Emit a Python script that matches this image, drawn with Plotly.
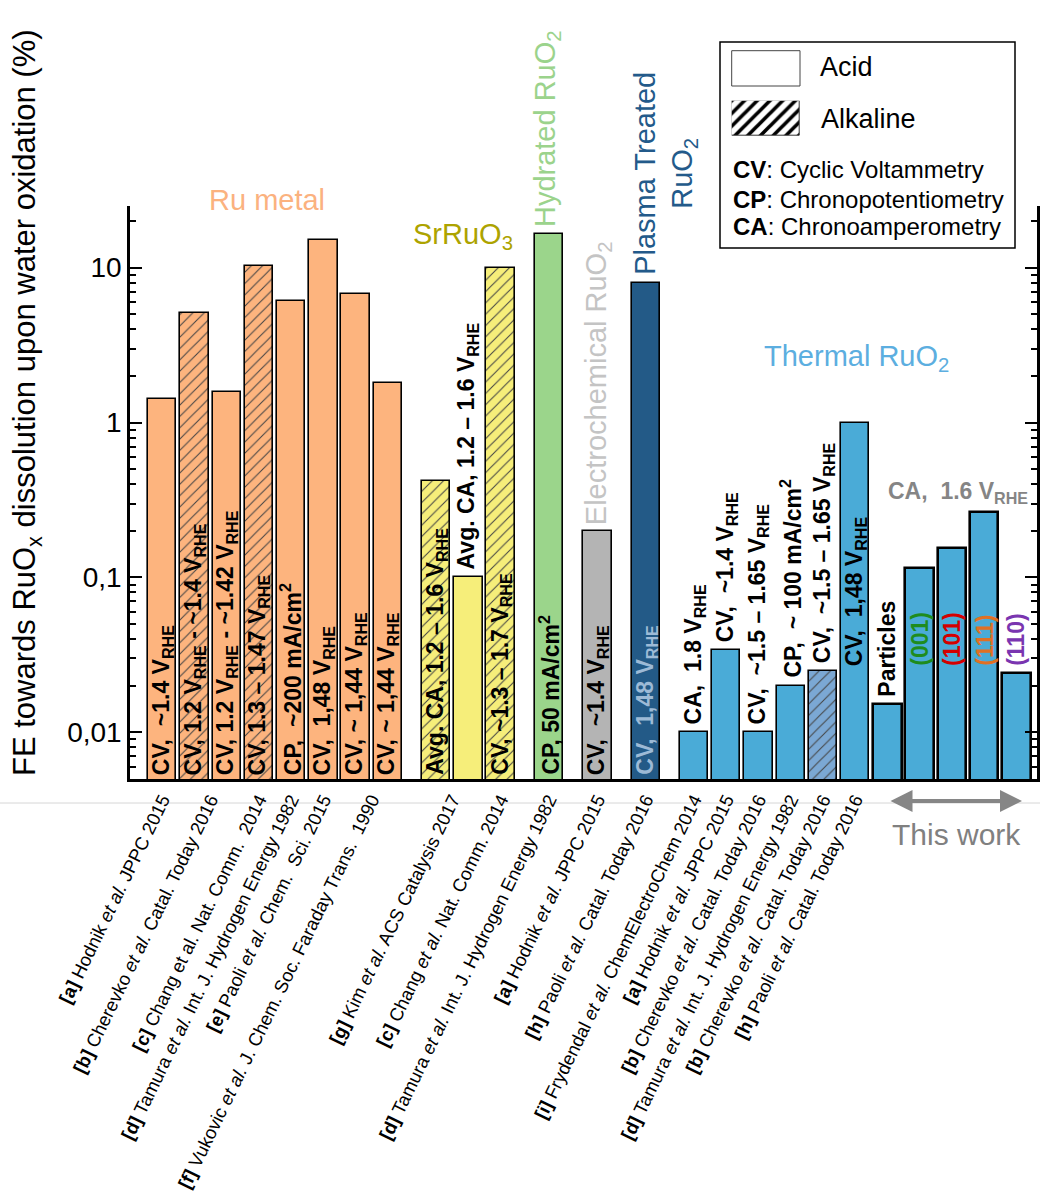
import math
import plotly.graph_objects as go

FONT = "Liberation Sans, Arial, sans-serif"

# ---------------- data ----------------
# x slot of every bar (groups are separated by half-slot gaps)
positions = [0, 1, 2, 3, 4, 5, 6, 7,
             8.5, 9.5, 10.5,
             12,
             13.5,
             15,
             16.5, 17.5, 18.5, 19.5, 20.5, 21.5,
             22.5, 23.5, 24.5, 25.5, 26.5]

# Faradaic efficiency towards RuOx dissolution (%)
fe_values = [1.42, 5.1, 1.58, 10.3, 6.05, 15.0, 6.8, 1.81,
             0.42, 0.10, 10.0,
             16.6,
             0.20,
             8.0,
             0.010, 0.034, 0.010, 0.020, 0.025, 1.0,
             0.0152, 0.115, 0.155, 0.264, 0.024]

electrolyte = ["acid", "alkaline", "acid", "alkaline", "acid", "acid", "acid", "acid",
               "alkaline", "acid", "alkaline",
               "acid",
               "acid",
               "acid",
               "acid", "acid", "acid", "acid", "alkaline", "acid",
               "acid", "acid", "acid", "acid", "acid"]

material = (["ru"] * 8 + ["srruo3"] * 3 + ["hydrated", "electrochemical", "plasma"]
            + ["thermal"] * 6 + ["this_work"] * 5)

# literature references; a reference shared by two bars sits between them
reference_slots = [0, 1.5, 3, 4, 5, 6.5,
                   9, 10.5,
                   12, 13.5, 15,
                   16.5, 17.5, 18.5, 19.5, 20.5, 21.5]
references = [
    "<b>[a]</b> Hodnik <i>et al.</i> JPPC 2015",
    "<b>[b]</b> Cherevko <i>et al.</i> Catal. Today 2016",
    "<b>[c]</b> Chang et al. Nat. Comm.  2014",
    "<b>[d]</b> Tamura <i>et al.</i> Int. J. Hydrogen Energy 1982",
    "<b>[e]</b> Paoli <i>et al.</i> Chem.  Sci. 2015",
    "<b>[f]</b> Vukovic <i>et al.</i> J. Chem. Soc. Faraday Trans.  1990",
    "<b>[g]</b> Kim <i>et al.</i> ACS Catalysis 2017",
    "<b>[c]</b> Chang <i>et al.</i> Nat. Comm. 2014",
    "<b>[d]</b> Tamura <i>et al.</i> Int. J. Hydrogen Energy 1982",
    "<b>[a]</b> Hodnik <i>et al.</i> JPPC 2015",
    "<b>[h]</b> Paoli <i>et al.</i> Catal. Today 2016",
    "<b>[i]</b> Frydendal <i>et al.</i> ChemElectroChem 2014",
    "<b>[a]</b> Hodnik <i>et al.</i> JPPC 2015",
    "<b>[b]</b> Cherevko <i>et al.</i> Catal. Today 2016",
    "<b>[d]</b> Tamura <i>et al.</i> Int. J. Hydrogen Energy 1982",
    "<b>[b]</b> Cherevko <i>et al.</i> Catal. Today 2016",
    "<b>[h]</b> Paoli <i>et al.</i> Catal. Today 2016",
]

# method text written on / above each bar
bar_texts = [
    "CV,  ~1.4 V<sub>RHE</sub>",
    "CV, 1.2 V<sub>RHE</sub> - ~1.4 V<sub>RHE</sub>",
    "CV, 1.2 V<sub>RHE</sub> - ~1.42 V<sub>RHE</sub>",
    "CV, 1.3 – 1.47 V<sub>RHE</sub>",
    "CP,  ~200 mA/cm<sup>2</sup>",
    "CV,  1,48 V<sub>RHE</sub>",
    "CV, ~ 1,44 V<sub>RHE</sub>",
    "CV, ~ 1,44 V<sub>RHE</sub>",
    "Avg. CA, 1.2 – 1.6 V<sub>RHE</sub>",
    "Avg. CA, 1.2 – 1.6 V<sub>RHE</sub>",
    "CV, ~1.3 – 1.7 V<sub>RHE</sub>",
    "CP, 50 mA/cm<sup>2</sup>",
    "CV,  ~1.4 V<sub>RHE</sub>",
    "CV,  1,48 V<sub>RHE</sub>",
    "CA,  1.8 V<sub>RHE</sub>",
    "CV,  ~1.4 V<sub>RHE</sub>",
    "CV,  ~1.5 – 1.65 V<sub>RHE</sub>",
    "CP,  ~ 100 mA/cm<sup>2</sup>",
    "CV,  ~1.5 – 1.65 V<sub>RHE</sub>",
    "CV,  1,48 V<sub>RHE</sub>",
    "Particles",
    "(001)",
    "(101)",
    "(111)",
    "(110)",
]
# where each text starts: from the axis, above the bar, or at a fixed height inside the bar
bar_text_place = (["axis"] * 9 + ["above", "axis", "axis", "axis", "axis"]
                  + ["above"] * 5 + ["inside"] + ["above", "inside", "inside", "inside", "above"])
bar_text_colors = (["black"] * 13 + ["#9DBAD6"] + ["black"] * 7
                   + ["#1E8C1E", "#D40000", "#E07024", "#7A35B0"])

# ---------------- styling ----------------
fill_colors = {
    "ru": "#FDB47E",
    "srruo3": "#F6EE7A",
    "hydrated": "#9BD58B",
    "electrochemical": "#B4B4B4",
    "plasma": "#235A87",
    "thermal": "#4AABD7",
    "this_work": "#4AABD7",
}
bar_colors = []
for m, e in zip(material, electrolyte):
    if m == "thermal" and e == "alkaline":
        bar_colors.append("#7BA8D4")
    else:
        bar_colors.append(fill_colors[m])
pattern_shapes = ["/" if e == "alkaline" else "" for e in electrolyte]
outline_widths = [2.6 if m == "this_work" else 1.6 for m in material]

# pixel frame of the figure (plot area spans x 130..1037, y 20..779)
FIG_W, FIG_H = 1040, 1198
L, R, T, B = 130, 1037, 20, 779
Y_AXIS_TOP = 206


def px_x(px):
    return (px - L) / (R - L)


def px_y(py):
    return (B - py) / (B - T)


Y_MIN, Y_MAX = 0.005, 25.0

fig = go.Figure()

fig.add_trace(go.Bar(
    x=positions, y=fe_values, width=0.88,
    marker=dict(color=bar_colors,
                line=dict(color="black", width=outline_widths),
                pattern=dict(shape=pattern_shapes, fgcolor="black", fgopacity=1,
                             size=8, solidity=0.13, fillmode="overlay")),
    showlegend=False, hoverinfo="skip",
))

# hatched swatch of the legend box
fig.add_trace(go.Bar(
    x=[0.5], y=[1], base=0, width=1, xaxis="x2", yaxis="y2",
    marker=dict(color="white", line=dict(color="#333333", width=1),
                pattern=dict(shape="/", fgcolor="black", fgopacity=1, bgcolor="white",
                             size=9, solidity=0.4, fillmode="overlay")),
    cliponaxis=False, showlegend=False, hoverinfo="skip",
))

minor_vals = []
for dec in [0.001, 0.01, 0.1, 1, 10]:
    for k in range(2, 10):
        v = k * dec
        if Y_MIN < v < Y_MAX:
            minor_vals.append(v)

fig.update_layout(
    width=FIG_W, height=FIG_H,
    margin=dict(l=L, r=FIG_W - R, t=T, b=FIG_H - B, autoexpand=False),
    paper_bgcolor="white", plot_bgcolor="white",
    font=dict(family=FONT, color="black"),
    bargap=0,
    xaxis=dict(range=[-1.0, 27.14], domain=[0, 1], anchor="y",
               showline=True, linecolor="black", linewidth=2.5,
               ticks="", showgrid=False, zeroline=False,
               tickmode="array", tickvals=reference_slots, ticktext=references,
               tickangle=-64, tickfont=dict(size=18.5, family=FONT)),
    yaxis=dict(type="log", range=[math.log10(Y_MIN), math.log10(Y_MAX)],
               domain=[0, px_y(Y_AXIS_TOP)], anchor="x",
               showline=True, linecolor="black", linewidth=2.5, mirror="ticks",
               ticks="inside", ticklen=12, tickwidth=2, tickcolor="black",
               tickmode="array", tickvals=[0.01, 0.1, 1, 10],
               ticktext=["0,01", "0,1", "1", "10"],
               tickfont=dict(size=28, family=FONT),
               minor=dict(tickmode="array", tickvals=minor_vals, ticks="inside",
                          ticklen=6, tickwidth=1.5, tickcolor="black", showgrid=False),
               showgrid=False, zeroline=False),
    xaxis2=dict(domain=[px_x(731.7), px_x(800)], anchor="y2", range=[0, 1],
                visible=False, fixedrange=True),
    yaxis2=dict(domain=[px_y(136), px_y(100.7)], anchor="x2", range=[0, 1],
                visible=False, fixedrange=True),
)

shapes = [
    # faint separator line under the axis
    dict(type="line", xref="paper", yref="paper", x0=px_x(0), x1=px_x(FIG_W),
         y0=px_y(803), y1=px_y(803), line=dict(color="#D6D6D6", width=1), layer="below"),
    # legend frame
    dict(type="rect", xref="paper", yref="paper", x0=px_x(720), x1=px_x(1015),
         y0=px_y(248), y1=px_y(42), line=dict(color="black", width=1.5)),
    # acid swatch
    dict(type="rect", xref="paper", yref="paper", x0=px_x(731.7), x1=px_x(800),
         y0=px_y(86), y1=px_y(50.7), line=dict(color="#444444", width=1),
         fillcolor="white"),
]
fig.update_layout(shapes=shapes)

ann = []

# method text on each bar
for x, v, txt, place, col in zip(positions, fe_values, bar_texts, bar_text_place, bar_text_colors):
    if place == "axis":
        y, ys = math.log10(Y_MIN), 2
    elif place == "above":
        y, ys = math.log10(v), 6
    else:
        y, ys = math.log10(0.026), 0
    ann.append(dict(x=x, y=y, xref="x", yref="y", yshift=ys, text="<b>" + txt + "</b>",
                    textangle=-90, xanchor="center", yanchor="bottom", showarrow=False,
                    font=dict(size=23, color=col, family=FONT)))


def paper_text(px, py, text, size, color, **kw):
    d = dict(x=px_x(px), y=px_y(py), xref="paper", yref="paper", text=text,
             xanchor="center", yanchor="middle", showarrow=False,
             font=dict(size=size, color=color, family=FONT))
    d.update(kw)
    return d


# group titles
group_font = 29
ann += [
    paper_text(267, 200, "Ru metal", group_font, "#FBB27F"),
    paper_text(463, 236, "SrRuO<sub>3</sub>", group_font, "#ADA300"),
    dict(x=12, y=math.log10(fe_values[11]), xref="x", yref="y", yshift=4, xshift=-2,
         text="Hydrated RuO<sub>2</sub>", textangle=-90, xanchor="center", yanchor="bottom",
         showarrow=False, font=dict(size=group_font, color="#9BD38C", family=FONT)),
    dict(x=13.5, y=math.log10(fe_values[12]), xref="x", yref="y", yshift=4,
         text="Electrochemical RuO<sub>2</sub>", textangle=-90, xanchor="center",
         yanchor="bottom", showarrow=False,
         font=dict(size=group_font, color="#C4C4C4", family=FONT)),
    dict(x=15, y=math.log10(fe_values[13]), xref="x", yref="y", yshift=6, xshift=20,
         text="Plasma Treated<br>RuO<sub>2</sub>", textangle=-90, xanchor="center",
         yanchor="bottom", align="center", showarrow=False,
         font=dict(size=group_font, color="#235A8A", family=FONT)),
    paper_text(856, 358, "Thermal RuO<sub>2</sub>", group_font, "#5CAEE0"),
    paper_text(958, 492, "<b>CA,  1.6 V<sub>RHE</sub></b>", 23, "#858585"),
    paper_text(956, 834, "This work", 30, "#808080"),
    # double-headed arrow under "This work"
    dict(x=px_x(1022), y=px_y(801), ax=-133, ay=0,
         xref="paper", yref="paper", axref="pixel", ayref="pixel", text="",
         showarrow=True, arrowhead=2, arrowside="end+start", arrowsize=1.1,
         arrowwidth=4, arrowcolor="#868686"),
]

# y axis title
ann.append(paper_text(27, 403,
                      "FE towards RuO<sub>x</sub> dissolution upon water oxidation (%)",
                      31, "black", textangle=-90))

# legend texts
ann += [
    paper_text(818, 67, "Acid", 27, "black", xanchor="left"),
    paper_text(819, 119, "Alkaline", 27, "black", xanchor="left"),
    paper_text(731, 170, "<b>CV</b>: Cyclic Voltammetry", 24, "black", xanchor="left"),
    paper_text(731, 199, "<b>CP</b>: Chronopotentiometry", 24, "black", xanchor="left"),
    paper_text(731, 227, "<b>CA</b>: Chronoamperometry", 24, "black", xanchor="left"),
]

fig.update_layout(annotations=ann)

fig.write_html("out.html")
